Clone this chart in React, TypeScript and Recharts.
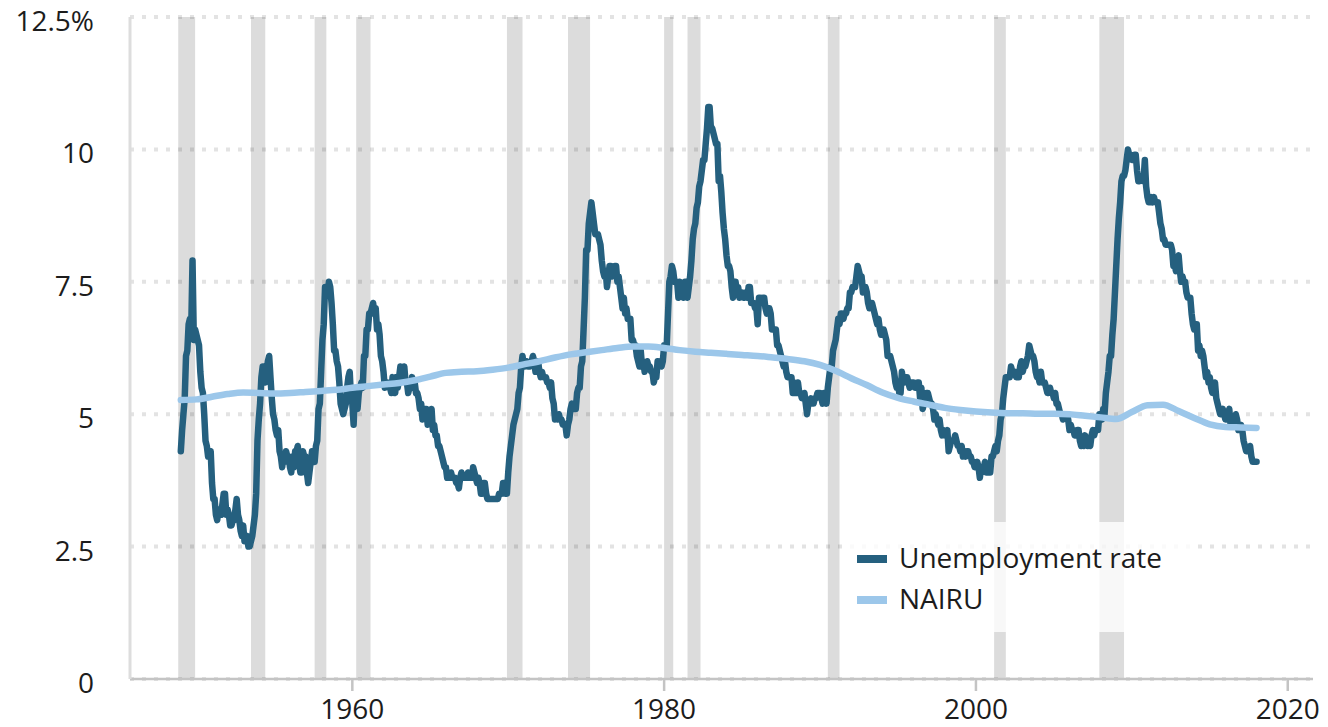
import React from "react";
import { LineChart, Line, XAxis, YAxis, CartesianGrid, ReferenceArea, Legend } from "recharts";

// Monthly unemployment rate (%), starting January 1949
const UNRATE_START_YEAR = 1949;
const UNRATE: number[] = [
  4.3, 4.7, 5.0, 5.3, 6.1, 6.2, 6.7, 6.8, 6.6, 7.9, 6.4, 6.6, // 1949
  6.5, 6.4, 6.3, 5.8, 5.5, 5.4, 5.0, 4.5, 4.4, 4.2, 4.2, 4.3, // 1950
  3.7, 3.4, 3.4, 3.1, 3.0, 3.2, 3.1, 3.1, 3.3, 3.5, 3.5, 3.1, // 1951
  3.2, 3.1, 2.9, 2.9, 3.0, 3.0, 3.2, 3.4, 3.1, 3.0, 2.8, 2.7, // 1952
  2.9, 2.6, 2.6, 2.7, 2.5, 2.5, 2.6, 2.7, 2.9, 3.1, 3.5, 4.5, // 1953
  4.9, 5.2, 5.7, 5.9, 5.9, 5.6, 5.8, 6.0, 6.1, 5.7, 5.3, 5.0, // 1954
  4.9, 4.7, 4.6, 4.7, 4.3, 4.2, 4.0, 4.2, 4.1, 4.3, 4.2, 4.2, // 1955
  4.0, 3.9, 4.2, 4.0, 4.3, 4.3, 4.4, 4.1, 3.9, 3.9, 4.3, 4.2, // 1956
  4.2, 3.9, 3.7, 3.9, 4.1, 4.3, 4.2, 4.1, 4.4, 4.5, 5.1, 5.2, // 1957
  5.8, 6.4, 6.7, 7.4, 7.4, 7.3, 7.5, 7.4, 7.1, 6.7, 6.2, 6.2, // 1958
  6.0, 5.9, 5.6, 5.2, 5.1, 5.0, 5.1, 5.2, 5.5, 5.7, 5.8, 5.3, // 1959
  5.2, 4.8, 5.4, 5.2, 5.1, 5.4, 5.5, 5.6, 5.5, 6.1, 6.1, 6.6, // 1960
  6.6, 6.9, 6.9, 7.0, 7.1, 6.9, 7.0, 6.6, 6.7, 6.5, 6.1, 6.0, // 1961
  5.8, 5.5, 5.6, 5.6, 5.5, 5.5, 5.4, 5.7, 5.6, 5.4, 5.7, 5.5, // 1962
  5.7, 5.9, 5.7, 5.7, 5.9, 5.6, 5.6, 5.4, 5.5, 5.5, 5.7, 5.5, // 1963
  5.6, 5.4, 5.4, 5.3, 5.1, 5.2, 4.9, 5.0, 5.1, 5.1, 4.8, 5.0, // 1964
  4.9, 5.1, 4.7, 4.8, 4.6, 4.6, 4.4, 4.4, 4.3, 4.2, 4.1, 4.0, // 1965
  4.0, 3.8, 3.8, 3.8, 3.9, 3.8, 3.8, 3.8, 3.7, 3.7, 3.6, 3.8, // 1966
  3.9, 3.8, 3.8, 3.8, 3.8, 3.9, 3.8, 3.8, 3.8, 4.0, 3.9, 3.8, // 1967
  3.7, 3.8, 3.7, 3.5, 3.5, 3.7, 3.7, 3.5, 3.4, 3.4, 3.4, 3.4, // 1968
  3.4, 3.4, 3.4, 3.4, 3.4, 3.5, 3.5, 3.5, 3.7, 3.7, 3.5, 3.5, // 1969
  3.9, 4.2, 4.4, 4.6, 4.8, 4.9, 5.0, 5.1, 5.4, 5.5, 5.9, 6.1, // 1970
  5.9, 5.9, 6.0, 5.9, 5.9, 5.9, 6.0, 6.1, 6.0, 5.8, 6.0, 6.0, // 1971
  5.8, 5.7, 5.8, 5.7, 5.7, 5.7, 5.6, 5.6, 5.5, 5.6, 5.3, 5.2, // 1972
  4.9, 5.0, 4.9, 5.0, 4.9, 4.9, 4.8, 4.8, 4.8, 4.6, 4.8, 4.9, // 1973
  5.1, 5.2, 5.1, 5.1, 5.1, 5.4, 5.5, 5.5, 5.9, 6.0, 6.6, 7.2, // 1974
  8.1, 8.1, 8.6, 8.8, 9.0, 8.8, 8.6, 8.4, 8.4, 8.4, 8.3, 8.2, // 1975
  7.9, 7.7, 7.6, 7.7, 7.4, 7.6, 7.8, 7.8, 7.6, 7.7, 7.8, 7.8, // 1976
  7.5, 7.6, 7.4, 7.2, 7.0, 7.2, 6.9, 7.0, 6.8, 6.8, 6.8, 6.4, // 1977
  6.4, 6.3, 6.3, 6.1, 6.0, 5.9, 6.2, 5.9, 6.0, 5.8, 5.9, 6.0, // 1978
  5.9, 5.9, 5.8, 5.8, 5.6, 5.7, 5.7, 6.0, 5.9, 6.0, 5.9, 6.0, // 1979
  6.3, 6.3, 6.3, 6.9, 7.5, 7.6, 7.8, 7.7, 7.5, 7.5, 7.5, 7.2, // 1980
  7.5, 7.4, 7.4, 7.2, 7.5, 7.5, 7.2, 7.4, 7.6, 7.9, 8.3, 8.5, // 1981
  8.6, 8.9, 9.0, 9.3, 9.4, 9.6, 9.8, 9.8, 10.1, 10.4, 10.8, 10.8, // 1982
  10.4, 10.4, 10.3, 10.2, 10.1, 10.1, 9.4, 9.5, 9.2, 8.8, 8.5, 8.3, // 1983
  8.0, 7.8, 7.8, 7.7, 7.4, 7.2, 7.5, 7.5, 7.3, 7.4, 7.2, 7.3, // 1984
  7.3, 7.2, 7.2, 7.3, 7.2, 7.4, 7.4, 7.1, 7.1, 7.1, 7.0, 7.0, // 1985
  6.7, 7.2, 7.2, 7.1, 7.2, 7.2, 7.0, 6.9, 7.0, 7.0, 6.9, 6.6, // 1986
  6.6, 6.6, 6.6, 6.3, 6.3, 6.2, 6.1, 6.0, 5.9, 6.0, 5.8, 5.7, // 1987
  5.7, 5.7, 5.7, 5.4, 5.6, 5.4, 5.4, 5.6, 5.4, 5.4, 5.3, 5.3, // 1988
  5.4, 5.2, 5.0, 5.2, 5.2, 5.3, 5.2, 5.2, 5.3, 5.3, 5.4, 5.4, // 1989
  5.4, 5.3, 5.2, 5.4, 5.4, 5.2, 5.5, 5.7, 5.9, 5.9, 6.2, 6.3, // 1990
  6.4, 6.6, 6.8, 6.7, 6.9, 6.9, 6.8, 6.9, 6.9, 7.0, 7.0, 7.3, // 1991
  7.3, 7.4, 7.4, 7.4, 7.6, 7.8, 7.7, 7.6, 7.6, 7.3, 7.4, 7.4, // 1992
  7.3, 7.1, 7.0, 7.1, 7.1, 7.0, 6.9, 6.8, 6.7, 6.8, 6.6, 6.5, // 1993
  6.6, 6.6, 6.5, 6.4, 6.1, 6.1, 6.1, 6.0, 5.9, 5.8, 5.6, 5.5, // 1994
  5.6, 5.4, 5.4, 5.8, 5.6, 5.6, 5.7, 5.7, 5.6, 5.5, 5.6, 5.6, // 1995
  5.6, 5.5, 5.5, 5.6, 5.6, 5.3, 5.5, 5.1, 5.2, 5.2, 5.4, 5.4, // 1996
  5.3, 5.2, 5.2, 5.1, 4.9, 5.0, 4.9, 4.8, 4.9, 4.7, 4.6, 4.7, // 1997
  4.6, 4.6, 4.7, 4.3, 4.4, 4.5, 4.5, 4.5, 4.6, 4.5, 4.4, 4.4, // 1998
  4.3, 4.4, 4.2, 4.3, 4.2, 4.3, 4.3, 4.2, 4.2, 4.1, 4.1, 4.0, // 1999
  4.0, 4.1, 4.0, 3.8, 4.0, 4.0, 4.0, 4.1, 3.9, 3.9, 3.9, 3.9, // 2000
  4.2, 4.2, 4.3, 4.4, 4.3, 4.5, 4.6, 4.9, 5.0, 5.3, 5.5, 5.7, // 2001
  5.7, 5.7, 5.7, 5.9, 5.8, 5.8, 5.8, 5.7, 5.7, 5.7, 5.9, 6.0, // 2002
  5.8, 5.9, 5.9, 6.0, 6.1, 6.3, 6.2, 6.1, 6.1, 6.0, 5.8, 5.7, // 2003
  5.7, 5.6, 5.8, 5.6, 5.6, 5.6, 5.5, 5.4, 5.4, 5.5, 5.4, 5.4, // 2004
  5.3, 5.4, 5.2, 5.2, 5.1, 5.0, 5.0, 4.9, 5.0, 5.0, 5.0, 4.9, // 2005
  4.7, 4.8, 4.7, 4.7, 4.6, 4.6, 4.7, 4.7, 4.5, 4.4, 4.5, 4.4, // 2006
  4.6, 4.5, 4.4, 4.5, 4.4, 4.6, 4.7, 4.6, 4.7, 4.7, 4.7, 5.0, // 2007
  5.0, 4.9, 5.1, 5.0, 5.4, 5.6, 5.8, 6.1, 6.1, 6.5, 6.8, 7.3, // 2008
  7.8, 8.3, 8.7, 9.0, 9.4, 9.5, 9.5, 9.6, 9.8, 10.0, 9.9, 9.9, // 2009
  9.8, 9.8, 9.9, 9.9, 9.6, 9.4, 9.4, 9.5, 9.5, 9.4, 9.8, 9.3, // 2010
  9.1, 9.0, 9.0, 9.1, 9.0, 9.1, 9.0, 9.0, 9.0, 8.8, 8.6, 8.5, // 2011
  8.3, 8.3, 8.2, 8.2, 8.2, 8.2, 8.2, 8.1, 7.8, 7.8, 7.7, 7.9, // 2012
  8.0, 7.7, 7.5, 7.6, 7.5, 7.5, 7.3, 7.2, 7.2, 7.2, 6.9, 6.7, // 2013
  6.6, 6.7, 6.7, 6.2, 6.3, 6.1, 6.2, 6.1, 5.9, 5.7, 5.8, 5.6, // 2014
  5.7, 5.5, 5.4, 5.4, 5.6, 5.3, 5.2, 5.1, 5.0, 5.0, 5.1, 5.0, // 2015
  4.9, 4.9, 5.0, 5.1, 4.8, 4.9, 4.8, 4.9, 5.0, 4.9, 4.7, 4.7, // 2016
  4.8, 4.7, 4.5, 4.4, 4.3, 4.3, 4.3, 4.4, 4.2, 4.1, 4.1, 4.1, // 2017
  4.1, // 2018
];

// NAIRU (%), one value per year starting 1949
const NAIRU_START_YEAR = 1949;
const NAIRU: number[] = [
  5.27, 5.28, 5.33, 5.38, 5.41, 5.40, 5.39, 5.40, 5.42, 5.44, // 1949-1958
  5.46, 5.50, 5.53, 5.56, 5.59, 5.64, 5.71, 5.78, 5.80, 5.81, // 1959-1968
  5.84, 5.88, 5.94, 6.00, 6.07, 6.13, 6.17, 6.21, 6.25, 6.28, // 1969-1978
  6.28, 6.25, 6.21, 6.18, 6.16, 6.14, 6.12, 6.10, 6.07, 6.04, // 1979-1988
  6.00, 5.93, 5.82, 5.68, 5.55, 5.41, 5.31, 5.24, 5.18, 5.12, // 1989-1998
  5.08, 5.05, 5.03, 5.02, 5.02, 5.01, 5.01, 5.00, 4.97, 4.94, // 1999-2008
  4.91, 5.04, 5.17, 5.18, 5.06, 4.93, 4.81, 4.76, 4.75, 4.74, // 2009-2018
];

// Recession shading as drawn: [start year, start month, end year, end month]
const RECESSIONS: [number, number, number, number][] = [
  [1948, 11, 1949, 11],
  [1953, 7, 1954, 5],
  [1957, 8, 1958, 4],
  [1960, 4, 1961, 2],
  [1969, 12, 1970, 11],
  [1973, 11, 1975, 3],
  [1980, 1, 1980, 7],
  [1981, 7, 1982, 4],
  [1990, 7, 1991, 3],
  [2001, 3, 2001, 11],
  [2007, 12, 2009, 6],
];

const X_TICKS = [1960, 1980, 2000, 2020];
const Y_TICKS = [0, 2.5, 5, 7.5, 10, 12.5];
const SERIES_NAMES = ["Unemployment rate", "NAIRU"];
const COLORS = ["#25607f", "#9cc7ea"];

const FONT = "'Open Sans', sans-serif";
const TEXT_COLOR = "#1c1c1c";

const unrateData = UNRATE.map((v, i) => ({ t: UNRATE_START_YEAR + i / 12, u: v }));
const nairuData = NAIRU.map((v, i) => ({ t: NAIRU_START_YEAR + i, n: v }));

const YTick = (props: any) => {
  const { x, y, payload } = props;
  const v = payload.value;
  const label = v === 12.5 ? "12.5%" : String(v);
  return (
    <text x={x} y={y + 14} textAnchor="end" fontFamily={FONT} fontSize={28} fill={TEXT_COLOR}>
      {label}
    </text>
  );
};

const XTick = (props: any) => {
  const { x, y, payload } = props;
  return (
    <text x={x} y={y + 28} textAnchor="middle" fontFamily={FONT} fontSize={28} fill={TEXT_COLOR}>
      {payload.value}
    </text>
  );
};

const LegendBox = () => (
  <svg width={345} height={110} style={{ display: "block" }}>
    <rect x={0} y={0} width={345} height={110} fill="#ffffff" fillOpacity={0.8} />
    <rect x={12} y={33} width={30} height={8} fill={COLORS[0]} />
    <text x={54} y={46} fontFamily={FONT} fontSize={28} fill={TEXT_COLOR}>{SERIES_NAMES[0]}</text>
    <rect x={12} y={74} width={30} height={8} fill={COLORS[1]} />
    <text x={54} y={87} fontFamily={FONT} fontSize={28} fill={TEXT_COLOR}>{SERIES_NAMES[1]}</text>
  </svg>
);

export default function App() {
  return (
    <div style={{ width: 1320, height: 727, marginTop: -8 }}>
      <LineChart
        width={1320}
        height={727}
        margin={{ top: 17, right: 15, bottom: 0, left: 0 }}
      >
        <CartesianGrid
          horizontal={true}
          vertical={false}
          stroke="#000000"
          strokeOpacity={0.11}
          strokeWidth={4}
          strokeDasharray="4 8"
          zIndex={-80}
        />
        {RECESSIONS.map(([sy, sm, ey, em], i) => (
          <ReferenceArea
            key={i}
            x1={sy + (sm - 1) / 12}
            x2={ey + em / 12}
            y1={0}
            y2={12.5}
            fill="#dcdcdc"
            fillOpacity={1}
            stroke="none"
            zIndex={-90}
          />
        ))}
        <XAxis
          dataKey="t"
          type="number"
          domain={[1945.74, 2021.62]}
          ticks={X_TICKS}
          allowDataOverflow
          height={48}
          tickSize={12}
          tickMargin={0}
          stroke="#c4c4c4"
          axisLine={{ stroke: "#c4c4c4", strokeWidth: 2.5 }}
          tickLine={{ stroke: "#c4c4c4", strokeWidth: 2.5 }}
          tick={<XTick />}
        />
        <YAxis
          type="number"
          domain={[0, 12.5]}
          ticks={Y_TICKS}
          width={122}
          tickSize={0}
          tickMargin={36}
          tickLine={false}
          axisLine={{ stroke: "#dddddd", strokeWidth: 3 }}
          tick={<YTick />}
        />
        <Legend
          layout="vertical"
          align="center"
          verticalAlign="middle"
          wrapperStyle={{ position: "absolute", left: 837, top: 522, width: 345, height: 110 }}
          content={() => <LegendBox />}
        />
        <Line
          data={unrateData}
          dataKey="u"
          name={SERIES_NAMES[0]}
          type="linear"
          stroke={COLORS[0]}
          strokeWidth={6.5}
          strokeLinejoin="round"
          strokeLinecap="round"
          dot={false}
          isAnimationActive={false}
        />
        <Line
          data={nairuData}
          dataKey="n"
          name={SERIES_NAMES[1]}
          type="monotone"
          stroke={COLORS[1]}
          strokeWidth={6.5}
          strokeLinejoin="round"
          strokeLinecap="round"
          dot={false}
          isAnimationActive={false}
        />
      </LineChart>
    </div>
  );
}
